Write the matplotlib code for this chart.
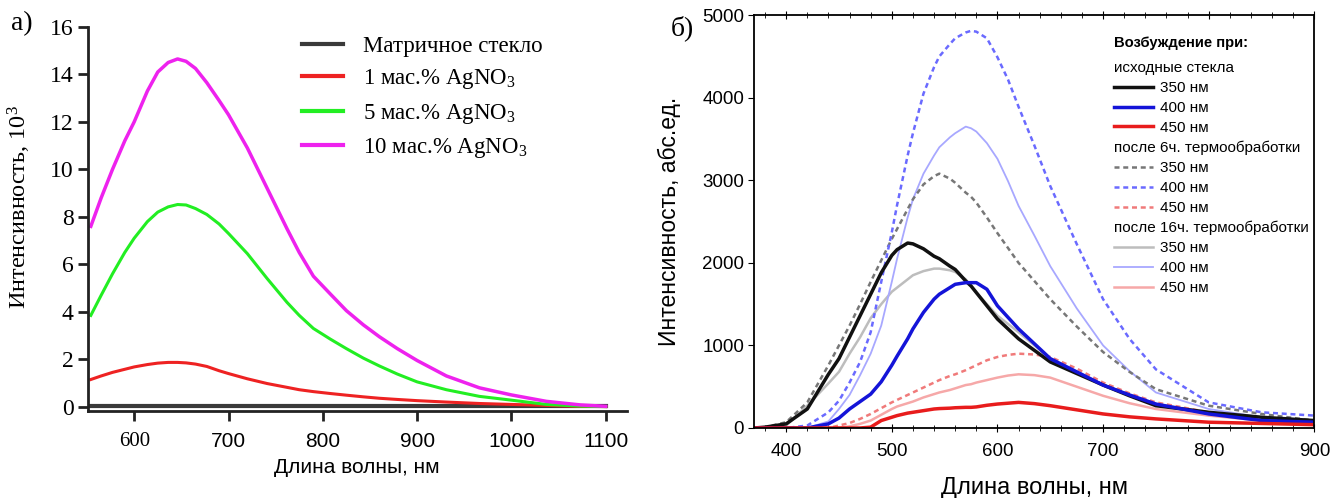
import numpy as np
import matplotlib.pyplot as plt
from matplotlib.lines import Line2D
from matplotlib.ticker import MultipleLocator

# ---- panel a) data (intensity, 10^3) ----
wl_a = [554, 565, 577, 590, 600, 614, 625, 636, 646, 655, 665, 677, 690, 700, 720,
        741, 762, 775, 790, 808, 825, 843, 860, 879, 900, 931, 966, 1000, 1037, 1073, 1100]
mag_10 = [7.6, 8.8, 10.0, 11.2, 12.0, 13.3, 14.1, 14.5, 14.65, 14.55, 14.25, 13.65, 12.9,
          12.3, 10.9, 9.2, 7.5, 6.5, 5.5, 4.75, 4.05, 3.45, 2.95, 2.45, 1.95, 1.3, 0.8,
          0.5, 0.23, 0.08, 0.02]
grn_5 = [3.85, 4.7, 5.6, 6.5, 7.1, 7.8, 8.2, 8.42, 8.52, 8.5, 8.35, 8.1, 7.7, 7.3, 6.45,
         5.4, 4.4, 3.85, 3.3, 2.85, 2.45, 2.05, 1.72, 1.38, 1.05, 0.72, 0.44, 0.28, 0.1,
         0.03, 0.01]
red_1 = [1.15, 1.3, 1.45, 1.58, 1.68, 1.78, 1.84, 1.87, 1.87, 1.85, 1.8, 1.7, 1.52, 1.4,
         1.18, 0.98, 0.82, 0.72, 0.64, 0.56, 0.49, 0.42, 0.36, 0.31, 0.26, 0.2, 0.14,
         0.1, 0.06, 0.02, 0.01]
matrix = [0.02] * len(wl_a)

# ---- panel b) data (arb. units) ----
wl_b = [370, 380, 400, 420, 440, 450, 460, 470, 480, 490, 500, 505, 515, 520, 530,
        540, 545, 555, 560, 570, 575, 580, 590, 600, 610, 620, 635, 650, 675, 700,
        725, 750, 800, 850, 900]
b350 = [0, 10, 50, 230, 650, 840, 1100, 1360, 1620, 1880, 2090, 2160, 2240, 2230, 2170,
        2080, 2050, 1960, 1920, 1780, 1720, 1640, 1480, 1320, 1200, 1080, 940, 800, 660, 520,
        390, 270, 190, 130, 90]
b400 = [0, 0, 0, 0, 50, 120, 230, 320, 410, 560, 760, 870, 1080, 1200, 1400,
        1560, 1620, 1700, 1740, 1760, 1760, 1760, 1680, 1480, 1340, 1200, 1020, 840, 680, 520,
        400, 290, 170, 90, 70]
b450 = [0, 0, 0, 0, 0, 0, 0, 0, 10, 90, 130, 150, 180, 190, 210,
        230, 235, 240, 245, 250, 250, 255, 275, 290, 300, 310, 295, 270, 220, 170,
        135, 110, 70, 55, 40]
h6_350 = [0, 10, 70, 310, 760, 1000, 1240, 1500, 1770, 2030, 2290, 2410, 2650, 2770, 2950,
          3050, 3080, 3020, 2970, 2850, 2800, 2730, 2550, 2360, 2180, 2000, 1780, 1560, 1230, 920,
          680, 470, 270, 170, 90]
h6_400 = [0, 0, 0, 30, 190, 330, 550, 800, 1160, 1770, 2370, 2700, 3300, 3570, 4050,
          4370, 4500, 4650, 4720, 4790, 4810, 4800, 4720, 4490, 4220, 3890, 3420, 2930, 2230, 1560,
          1080, 710, 310, 190, 150]
h6_450 = [0, 0, 0, 0, 0, 30, 60, 110, 170, 240, 310, 340, 400, 430, 490,
          550, 580, 630, 650, 700, 730, 760, 820, 860, 885, 900, 890, 860, 720, 550,
          420, 310, 190, 110, 70]
h16_350 = [0, 0, 30, 270, 540, 680, 900, 1100, 1330, 1500, 1650, 1700, 1800, 1850, 1900,
           1930, 1930, 1910, 1890, 1800, 1720, 1640, 1500, 1360, 1260, 1160, 1000, 840, 680, 520,
           400, 290, 190, 130, 90]
h16_400 = [0, 0, 0, 0, 80, 230, 400, 640, 900, 1240, 1770, 2050, 2550, 2770, 3080,
           3300, 3400, 3520, 3570, 3650, 3630, 3590, 3450, 3260, 2990, 2690, 2330, 1960, 1450, 1000,
           690, 430, 230, 130, 90]
h16_450 = [0, 0, 0, 0, 0, 0, 20, 50, 90, 160, 230, 260, 300, 320, 370,
           410, 430, 460, 480, 520, 530, 550, 580, 610, 635, 650, 640, 610, 500, 390,
           300, 230, 150, 90, 50]

serif = 'Liberation Serif'
sans = 'Liberation Sans'

fig = plt.figure(figsize=(13.33, 4.98), dpi=100)

# ================= panel a =================
ax1 = fig.add_axes([0.066, 0.175, 0.404, 0.771])
ax1.plot(wl_a, matrix, color='#3a3a3a', lw=3, label='Матричное стекло')
ax1.plot(wl_a, red_1, color='#ee2222', lw=2.2, label=r'1 мас.% AgNO$\mathregular{_3}$')
ax1.plot(wl_a, grn_5, color='#22ee22', lw=2.2, label=r'5 мас.% AgNO$\mathregular{_3}$')
ax1.plot(wl_a, mag_10, color='#ee22ee', lw=2.5, label=r'10 мас.% AgNO$\mathregular{_3}$')
ax1.set_xlim(551, 1122)
ax1.set_ylim(-0.17, 16)
ax1.spines['top'].set_visible(False)
ax1.spines['right'].set_visible(False)
for s in ('left', 'bottom'):
    ax1.spines[s].set_linewidth(2)
    ax1.spines[s].set_color('#222222')
ax1.set_yticks(range(0, 17, 2))
ax1.set_xticks(range(600, 1101, 100))
ax1.tick_params(width=2, length=7, color='#222222')
ax1.tick_params(axis='x', pad=8)
for t in ax1.get_yticklabels():
    t.set_fontfamily(serif)
    t.set_fontsize(17)
for i, t in enumerate(ax1.get_xticklabels()):
    t.set_fontfamily(serif if i == 0 else sans)
    t.set_fontsize(15)
ax1.set_xlabel('Длина волны, нм', fontfamily=sans, fontsize=15, labelpad=5)
ax1.set_ylabel(r'Интенсивность, 10$\mathregular{^3}$', fontfamily=serif, fontsize=17.5,
               labelpad=12)
ax1.yaxis.label.set_y(0.53)
leg1 = ax1.legend(loc='upper left', bbox_to_anchor=(0.36, 1.03), frameon=False,
                  prop={'family': serif, 'size': 16.5}, handlelength=1.75,
                  handletextpad=0.9, labelspacing=0.45)
for ln in leg1.get_lines():
    ln.set_linewidth(3)
fig.text(0.008, 0.94, 'а)', fontfamily=serif, fontsize=20)

# ================= panel b =================
ax2 = fig.add_axes([0.566, 0.1406, 0.420, 0.829])
ax2.plot(wl_b, h16_350, color='#bdbdbd', lw=1.8)
ax2.plot(wl_b, h16_400, color='#a8a8ff', lw=1.3)
ax2.plot(wl_b, h16_450, color='#f6a8a8', lw=1.8)
ax2.plot(wl_b, h6_350, color='#777777', lw=1.8, ls=(0, (2, 1.5)))
ax2.plot(wl_b, h6_400, color='#6a6aff', lw=1.8, ls=(0, (2, 1.5)))
ax2.plot(wl_b, h6_450, color='#f07a7a', lw=1.8, ls=(0, (2, 1.5)))
ax2.plot(wl_b, b350, color='#111111', lw=2.5)
ax2.plot(wl_b, b400, color='#1414d8', lw=2.5)
ax2.plot(wl_b, b450, color='#e81c1c', lw=2.5)
ax2.set_xlim(370, 900)
ax2.set_ylim(0, 5000)
ax2.xaxis.set_major_locator(MultipleLocator(100))
ax2.xaxis.set_minor_locator(MultipleLocator(20))
ax2.yaxis.set_major_locator(MultipleLocator(1000))
ax2.tick_params(axis='x', which='both', direction='inout', top=True)
ax2.tick_params(axis='x', which='major', length=6, pad=8)
ax2.tick_params(axis='x', which='minor', length=4)
ax2.tick_params(axis='y', length=4)
ax2.tick_params(labelsize=13.5)
for t in ax2.get_xticklabels() + ax2.get_yticklabels():
    t.set_fontfamily(sans)
for s in ax2.spines.values():
    s.set_linewidth(1.3)
ax2.set_xlabel('Длина волны, нм', fontfamily=sans, fontsize=17, labelpad=12)
ax2.set_ylabel('Интенсивность, абс.ед.', fontfamily=sans, fontsize=16.5, labelpad=15)
fig.text(0.503, 0.93, 'б)', fontfamily=serif, fontsize=20)

blank = Line2D([], [], ls='none')
handles = [blank,
           Line2D([], [], color='#111111', lw=2.5),
           Line2D([], [], color='#1414d8', lw=2.5),
           Line2D([], [], color='#e81c1c', lw=2.5),
           blank,
           Line2D([], [], color='#777777', lw=1.8, ls=(0, (2, 1.5))),
           Line2D([], [], color='#6a6aff', lw=1.8, ls=(0, (2, 1.5))),
           Line2D([], [], color='#f07a7a', lw=1.8, ls=(0, (2, 1.5))),
           blank,
           Line2D([], [], color='#bdbdbd', lw=1.8),
           Line2D([], [], color='#a8a8ff', lw=1.3),
           Line2D([], [], color='#f6a8a8', lw=1.8)]
labels = ['исходные стекла', '350 нм', '400 нм', '450 нм',
          'после 6ч. термообработки', '350 нм', '400 нм', '450 нм',
          'после 16ч. термообработки', '350 нм', '400 нм', '450 нм']
fs_leg = 11
hl, htp = 2.55, 0.4
ax2.text(0.643, 0.932, 'Возбуждение при:', transform=ax2.transAxes, fontfamily=sans,
         fontsize=10.6, fontweight='bold', va='center', ha='left')
leg2 = ax2.legend(handles, labels, loc='upper left', bbox_to_anchor=(0.643, 0.889),
                  frameon=False, prop={'family': sans, 'size': fs_leg},
                  handlelength=hl, handletextpad=htp, labelspacing=0.39,
                  borderpad=0, borderaxespad=0)
shift = (hl + htp) * fs_leg * fig.dpi / 72
for i, t in enumerate(leg2.get_texts()):
    if i in (0, 4, 8):
        t.set_position((-shift, 0))

fig.savefig('out.png', dpi=100)
